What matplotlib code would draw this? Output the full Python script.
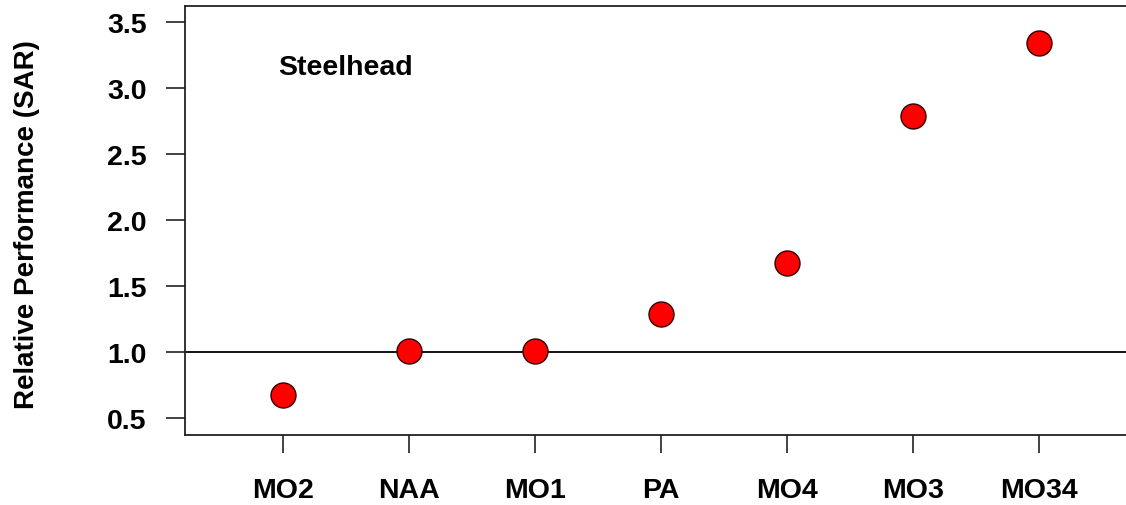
import matplotlib
matplotlib.use("Agg")
import matplotlib.pyplot as plt

# Relative SAR performance of steelhead under each scenario
scenarios = ["MO2", "NAA", "MO1", "PA", "MO4", "MO3", "MO34"]
sar = [0.67, 1.01, 1.01, 1.29, 1.67, 2.79, 3.34]
yticks = [0.5, 1.0, 1.5, 2.0, 2.5, 3.0, 3.5]

plt.rcParams["font.family"] = ["Liberation Sans", "DejaVu Sans"]
plt.rcParams["font.weight"] = "bold"

fig = plt.figure(figsize=(11.26, 5.06), dpi=100)
ax = fig.add_axes([185 / 1126, 70 / 506, (1137 - 185) / 1126, (436 - 7) / 506])

x = list(range(len(scenarios)))
ax.axhline(1.0, color="black", lw=1.3, zorder=1)
ax.plot(x, sar, linestyle="none", marker="o", markersize=18,
        markerfacecolor="#ff0000", markeredgecolor="#300000",
        markeredgewidth=1.0, zorder=3)

ax.set_xlim(-0.78, 6.78)
ax.set_ylim(0.37, 3.62)
ax.set_xticks(x)
ax.set_xticklabels(scenarios, fontsize=20.5, fontweight="bold")
ax.set_yticks(yticks)
ax.set_yticklabels([f"{v:.1f}" for v in yticks], fontsize=20.5, fontweight="bold")

ax.tick_params(axis="y", direction="out", length=13.5, width=1.2, pad=14,
               color="#222222")
ax.tick_params(axis="x", direction="out", length=13, width=1.2, pad=17,
               color="#222222")
for side in ["left", "top", "bottom", "right"]:
    ax.spines[side].set_linewidth(1.3)
    ax.spines[side].set_color("#222222")

ax.text(-0.04, 3.16, "Steelhead", fontsize=20.5, fontweight="bold",
        ha="left", va="center")

fig.text(27 / 1126, 1 - 225 / 506, "Relative Performance (SAR)",
         rotation=90, ha="center", va="center", fontsize=20, fontweight="bold")

fig.savefig("out.png", dpi=100)
